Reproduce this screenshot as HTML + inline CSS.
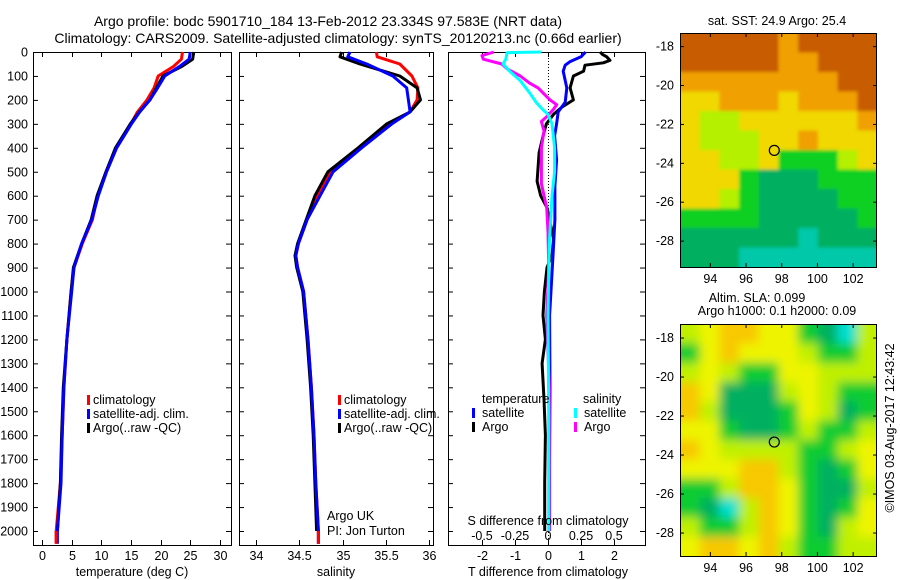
<!DOCTYPE html>
<html><head><meta charset="utf-8">
<style>
html,body{margin:0;padding:0;background:#fff;}
svg{display:block;font-family:"Liberation Sans",sans-serif;}
text{font-size:12.5px;fill:#000;}
.t{font-size:14px;}
</style></head>
<body>
<svg id="c" width="900" height="580" viewBox="0 0 900 580" xmlns="http://www.w3.org/2000/svg">
<defs>
<clipPath id="clipTop"><rect x="680" y="33" width="197" height="234"/></clipPath>
<clipPath id="clipBot"><rect x="680" y="324" width="197" height="232"/></clipPath>
<filter id="blur" x="-5%" y="-5%" width="110%" height="110%"><feGaussianBlur stdDeviation="5"/></filter>
<filter id="blurS" x="-5%" y="-5%" width="110%" height="110%"><feGaussianBlur stdDeviation="1.5"/></filter>
</defs>
<text class="t" x="328" y="26" text-anchor="middle">Argo profile: bodc 5901710_184 13-Feb-2012 23.334S 97.583E (NRT data)</text>
<text class="t" x="338" y="43" text-anchor="middle">Climatology: CARS2009. Satellite-adjusted climatology: synTS_20120213.nc (0.66d earlier)</text>
<g id="g"></g>
</svg>
<script>
// ---------- data ----------
const depthTicks=[0,100,200,300,400,500,600,700,800,900,1000,1100,1200,1300,1400,1500,1600,1700,1800,1900,2000];
const tempTicks=[0,5,10,15,20,25,30];
const salTicks=[34,34.5,35,35.5,36];
const tdiffTicks=[-2,-1,0,1,2];
const sdiffTicks=[-0.5,-0.25,0,0.25,0.5];
const sdiffTickLabels=["-0.5","-0.25","0","0.25","0.5"];

const tempDepth=[0,30,60,100,150,200,250,300,400,500,600,700,800,900,1000,1200,1400,1600,1800,2000,2053];
const tempClim=[23.7,23.5,22.2,19.6,18.9,17.7,16.1,15.0,12.5,10.8,9.4,8.5,6.8,5.4,4.9,4.2,3.7,3.4,3.1,2.4,2.4];
const tempSat=[25.0,24.8,23.2,20.7,19.5,18.2,16.5,15.1,12.6,10.9,9.5,8.4,6.7,5.4,5.0,4.2,3.7,3.4,3.2,2.6,2.6];
const tempArgo=[25.6,25.4,23.6,20.4,19.3,18.2,16.4,14.9,12.4,10.8,9.3,8.3,6.7,5.3,4.9,4.2,3.6,3.3,3.1,2.6,2.6];

const salDepth=[0,20,50,100,150,200,250,300,400,500,600,700,800,850,900,1000,1200,1400,1600,1800,2000,2053];
const salClim=[35.39,35.4,35.66,35.8,35.87,35.86,35.78,35.55,35.2,34.86,34.71,34.59,34.49,34.46,34.48,34.55,34.6,34.64,34.67,34.69,34.72,34.72];
const salSat=[35.085,35.06,35.28,35.58,35.74,35.76,35.78,35.57,35.22,34.89,34.74,34.59,34.49,34.46,34.48,34.55,34.6,34.64,34.67,34.69,34.72,34.72];
const salArgo=[34.99,34.97,35.2,35.66,35.86,35.9,35.78,35.51,35.18,34.83,34.68,34.58,34.48,34.45,34.47,34.54,34.59,34.63,34.66,34.68,34.7,34.7];

const tSatDepth=[0,20,40,55,80,150,210,250,300,350,450,560,700,850,1100,1400,1700,2000];
const tSatDiff=[1.14,1.0,0.67,0.52,0.46,0.57,0.52,0.31,0.26,0.2,0.26,0.21,0.21,0.15,0.05,0.06,0.05,0.05];
const tArgoDepth=[0,10,20,35,45,55,80,100,150,200,230,260,300,340,420,540,600,650,780,850,900,1000,1100,1200,1300,1450,1600,1800,2000];
const tArgoDiff=[1.58,1.65,1.78,1.88,1.68,1.12,1.08,0.77,0.67,0.77,0.42,0.17,-0.05,-0.13,-0.27,-0.33,-0.22,-0.03,0.17,0.12,-0.03,-0.11,-0.15,-0.08,-0.18,-0.12,-0.08,-0.1,-0.1];
const sArgoDepth=[0,15,30,50,70,100,130,150,200,220,240,270,290,330,400,550,650,750,900,1100,1400,1700,2000];
const sArgoDiff=[-0.41,-0.5,-0.49,-0.35,-0.31,-0.21,-0.14,-0.075,0.015,0.066,0.04,-0.01,-0.05,-0.03,-0.05,-0.05,-0.01,0,0.005,-0.01,0.01,0.01,0.01];
const sSatDepth=[0,3,30,50,80,120,170,210,240,260,300,400,500,600,800,1100,1500,2000];
const sSatDiff=[-0.05,-0.31,-0.32,-0.34,-0.29,-0.21,-0.14,-0.09,-0.04,0,0.03,0.05,0.05,0.03,0.01,0,0.005,0.005];

const lonTicks=[94,96,98,100,102];
const latTicks=[-18,-20,-22,-24,-26,-28];
const sstColors=["#c85c00","#f0a000","#f0d800","#b4f000","#10d020","#00b060","#00c8a8"];
const sstGrid=[
[0,0,0,0,0,1,0,0,0,0],
[0,0,0,0,0,1,1,0,0,0],
[1,1,1,1,1,1,1,1,0,0],
[2,2,1,1,1,2,1,1,1,0],
[2,3,3,2,2,2,2,2,2,1],
[2,3,3,3,2,2,1,2,2,2],
[2,2,3,3,2,4,4,4,3,2],
[2,2,2,4,5,5,5,4,4,4],
[2,2,3,4,5,5,5,5,4,4],
[4,4,4,4,5,5,5,5,5,4],
[5,5,5,5,5,5,6,5,5,5],
[5,5,5,6,6,6,6,6,6,6]];
const slaColors=["#f0a000","#f8c800","#eef400","#c0f000","#10cc30","#00b060","#00e0d0"];
const slaGrid=[
[3,2,1,1,2,2,4,5,6,3],
[4,2,1,2,2,2,3,4,4,3],
[3,2,3,4,4,2,2,3,3,3],
[1,2,5,5,5,3,2,3,4,4],
[1,3,5,5,5,4,2,3,5,4],
[2,2,4,5,5,4,3,4,4,3],
[1,2,3,3,3,3,4,4,3,2],
[2,2,2,1,1,3,4,5,4,2],
[4,4,3,1,1,2,4,5,5,3],
[4,5,6,3,1,2,4,5,4,2],
[3,4,4,3,1,2,4,5,3,2],
[2,1,1,2,1,3,4,4,3,3]];
const argoLon=97.583, argoLat=-23.334;

// ---------- helpers ----------
const NS="http://www.w3.org/2000/svg";
const G=document.getElementById('g');
function mk(tag,attrs,parent){const e=document.createElementNS(NS,tag);for(const k in attrs)e.setAttribute(k,attrs[k]);(parent||G).appendChild(e);return e;}
function txt(x,y,s,anchor,parent){const e=mk('text',{x:x,y:y,'text-anchor':anchor||'start'},parent);e.textContent=s;return e;}

const TOP=52, PXM=0.2395, BOT=545;
const yD=d=>TOP+d*PXM;
const xT=v=>42+v*5.93;
const xS=v=>256+(v-34)*86.6;
const xTd=v=>548+v*33;
const xSd=v=>548+v*132;

function panel(x0,x1,name,xfun,ticks,labels,showY){
  const r=mk('rect',{x:x0+0.5,y:TOP+0.5,width:x1-x0,height:BOT-TOP,fill:'none',stroke:'#000','stroke-width':1});
  
  
  depthTicks.forEach(d=>{
    const y=yD(d)+0.5;
    mk('line',{x1:x0,x2:x0+5,y1:y,y2:y,stroke:'#000'});
    mk('line',{x1:x1-5,x2:x1,y1:y,y2:y,stroke:'#000'});
    if(showY){const t=txt(28,y+4,String(d),'end');}
  });
  ticks.forEach((v,i)=>{
    const x=Math.round(xfun(v))+0.5;
    mk('line',{x1:x,x2:x,y1:TOP,y2:TOP+5,stroke:'#000'});
    mk('line',{x1:x,x2:x,y1:BOT-5,y2:BOT,stroke:'#000'});
    const t=txt(x,560,labels?labels[i]:String(v),'middle');
    
    
  });
}
function line(ds,vs,xfun,color,name){
  const pts=ds.map((d,i)=>xfun(vs[i]).toFixed(1)+','+yD(d).toFixed(1)).join(' ');
  const p=mk('polyline',{points:pts,fill:'none',stroke:color,'stroke-width':3,'stroke-linejoin':'round'});
  
  
}
function legendMark(x,y,color){mk('rect',{x:x,y:y-9,width:3,height:10,fill:color});}

// ---------- panel 1: temperature ----------
panel(33,231,'temperature-panel',xT,tempTicks,null,true);
line(tempDepth,tempClim,xT,'#ff0000','temp-climatology-line');
line(tempDepth.slice(0,-1),tempArgo.slice(0,-1),xT,'#000000','temp-argo-line');
line(tempDepth,tempSat,xT,'#0000ff','temp-satellite-line');
line(tempDepth.slice(-2),tempClim.slice(-2),xT,'#ff0000','temp-climatology-bottom');
{const t=txt(132,576,'temperature (deg C)','middle');}
legendMark(87,404,'#ff0000');txt(93,404,'climatology');
legendMark(87,418,'#0000ff');txt(93,418,'satellite-adj. clim.');
legendMark(87,432,'#000000');txt(93,432,'Argo(..raw -QC)');

// ---------- panel 2: salinity ----------
panel(239,433,'salinity-panel',xS,salTicks,null,false);
line(salDepth,salClim,xS,'#ff0000','sal-climatology-line');
line(salDepth.slice(0,-1),salArgo.slice(0,-1),xS,'#000000','sal-argo-line');
line(salDepth,salSat,xS,'#0000ff','sal-satellite-line');
line(salDepth.slice(-2),salClim.slice(-2),xS,'#ff0000','sal-climatology-bottom');
{const t=txt(336,576,'salinity','middle');}
legendMark(338,404,'#ff0000');txt(344,404,'climatology');
legendMark(338,418,'#0000ff');txt(344,418,'satellite-adj. clim.');
legendMark(338,432,'#000000');txt(344,432,'Argo(..raw -QC)');
{const t=txt(327,520,'Argo UK');}
{const t=txt(327,535,'PI: Jon Turton');}

// ---------- panel 3: differences ----------
panel(448,645,'difference-panel',xTd,tdiffTicks,null,false);
mk('line',{x1:548.5,x2:548.5,y1:TOP,y2:BOT,stroke:'#000','stroke-dasharray':'1,2'});
line(tArgoDepth,tArgoDiff,xTd,'#000000','t-argo-diff-line');
line(tSatDepth,tSatDiff,xTd,'#0000ff','t-satellite-diff-line');
line(sArgoDepth,sArgoDiff,xSd,'#ff00ff','s-argo-diff-line');
line(sSatDepth,sSatDiff,xSd,'#00ffff','s-satellite-diff-line');
{const t=txt(548,576,'T difference from climatology','middle');}
{const t=txt(548,525,'S difference from climatology','middle');}
sdiffTicks.forEach((v,i)=>{const t=txt(xSd(v),540,sdiffTickLabels[i],'middle');});
txt(482,403,'temperature');
legendMark(472,417,'#0000ff');txt(482,417,'satellite');
legendMark(472,431,'#000000');txt(482,431,'Argo');
txt(583,403,'salinity');
legendMark(574,417,'#00ffff');txt(584,417,'satellite');
legendMark(574,431,'#ff00ff');txt(584,431,'Argo');

// ---------- maps ----------
function map(y0,y1,latTop,pxPerLat,grid,colors,clip,filt,name){
  const x0=680,x1=877,lon0=92.3,pxPerLon=17.85;
  const xL=lon=>x0+(lon-lon0)*pxPerLon;
  const yL=lat=>y0+(latTop-lat)*pxPerLat;
  const grp=mk('g',{'clip-path':'url(#'+clip+')'});
  const inner=mk('g',{filter:'url(#'+filt+')'},grp);
  const rows=grid.length, cols=grid[0].length;
  const cw=(x1-x0)/cols, ch=(y1-y0)/rows;
  for(let r=0;r<rows;r++)for(let c=0;c<cols;c++){
    const ex=c==0?20:0, ey=r==0?20:0;
    const rr=mk('rect',{x:(x0+c*cw-ex).toFixed(1),y:(y0+r*ch-ey).toFixed(1),width:(cw+0.6+ex+(c==cols-1?20:0)).toFixed(1),height:(ch+0.6+ey+(r==rows-1?20:0)).toFixed(1),fill:colors[grid[r][c]]},inner);
    
    
  }
  const fr=mk('rect',{x:x0+0.5,y:y0+0.5,width:x1-x0-1,height:y1-y0,fill:'none',stroke:'#000'});
  
  
  lonTicks.forEach(v=>{const x=xL(v);mk('line',{x1:x,x2:x,y1:y1-4,y2:y1,stroke:'#000'});mk('line',{x1:x,x2:x,y1:y0,y2:y0+4,stroke:'#000'});
    const t=txt(x,y1+16,String(v),'middle');});
  latTicks.forEach(v=>{const y=yL(v);mk('line',{x1:x0,x2:x0+4,y1:y,y2:y,stroke:'#000'});mk('line',{x1:x1-4,x2:x1,y1:y,y2:y,stroke:'#000'});
    const t=txt(674,y+4,String(v),'end');});
  const c=mk('circle',{cx:xL(argoLon),cy:yL(argoLat),r:5,fill:'none',stroke:'#000','stroke-width':1.2});
  
  
}
map(33,267,-17.3,19.45,sstGrid,sstColors,'clipTop','blurS','sst-map');
map(324,556,-17.28,19.5,slaGrid,slaColors,'clipBot','blur','sla-map');
{const t=txt(777,25,'sat. SST: 24.9 Argo: 25.4','middle');}
{const t=txt(757,302,'Altim. SLA: 0.099','middle');}
{const t=txt(777,315,'Argo h1000: 0.1 h2000: 0.09','middle');}
{const t=txt(0,0,'©IMOS 03-Aug-2017 12:43:42','middle');t.setAttribute('transform','translate(894,428) rotate(-90)');}
</script>
</body></html>
